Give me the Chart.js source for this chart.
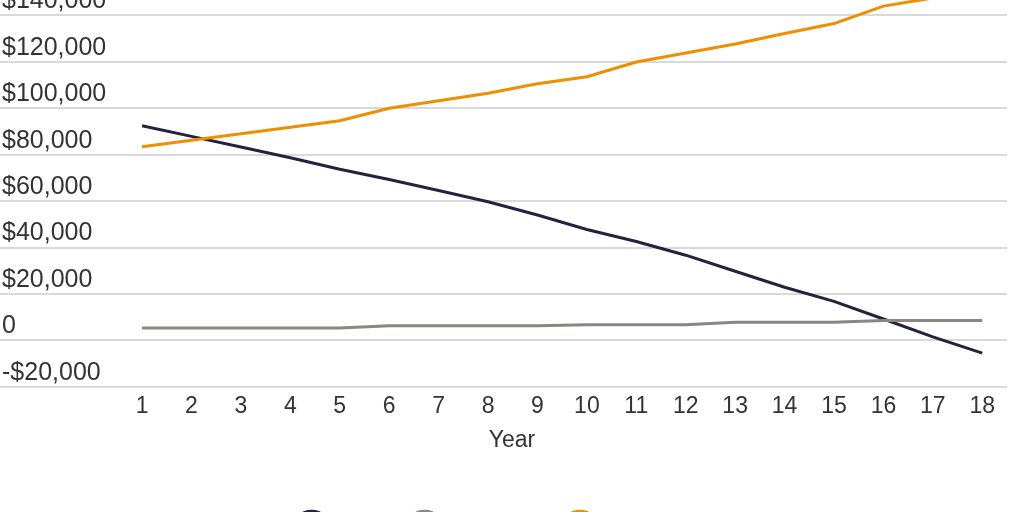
<!DOCTYPE html>
<html>
<head>
<meta charset="utf-8">
<script src="https://cdn.jsdelivr.net/npm/chart.js@4"></script>
<style>
  html, body { margin: 0; padding: 0; background: #fff; overflow: hidden; }
  #wrap { position: relative; width: 1024px; height: 512px; overflow: hidden; }
  #c { position: absolute; left: 0; top: -60px; }
</style>
</head>
<body>
<div id="wrap"><canvas id="c" width="1024" height="609"></canvas></div>
<script>
const years = [1,2,3,4,5,6,7,8,9,10,11,12,13,14,15,16,17,18];
const debt = [92500, 87900, 83300, 78700, 73700, 69300, 64600, 59700, 54000, 47800, 42600, 36700, 29800, 22900, 16800, 9200, 1500, -5500];
const payment = [5300, 5300, 5300, 5300, 5300, 6300, 6300, 6300, 6300, 6700, 6700, 6700, 7800, 7800, 7800, 8600, 8600, 8600];
const equity = [83400, 86200, 89000, 91800, 94600, 100000, 103200, 106500, 110600, 113600, 119900, 123800, 127700, 132200, 136500, 144000, 147500, 152000];
const seriesNames = ['Debt', 'Payment', 'Equity'];
const yTicks = [-20000, 0, 20000, 40000, 60000, 80000, 100000, 120000, 140000, 160000];

const FONT = "'Liberation Sans', Arial, sans-serif";
const toPts = arr => arr.map((v, i) => ({ x: years[i], y: v }));
const fmt = v => v === 0 ? '0' : (v < 0 ? '-$' : '$') + Math.abs(v).toLocaleString('en-US');

const legendShift = {
  id: 'legendShift',
  afterLayout(chart) {
    if (chart.legend) { chart.legend.left -= 20; chart.legend.right -= 20; }
  }
};

new Chart(document.getElementById('c'), {
  type: 'line',
  data: {
    datasets: [
      { label: seriesNames[0], data: toPts(debt), borderColor: '#25223f', backgroundColor: '#25223f', borderWidth: 3, pointRadius: 0, tension: 0, order: 3 },
      { label: seriesNames[1], data: toPts(payment), borderColor: '#8c877e', backgroundColor: '#8c877e', borderWidth: 3, pointRadius: 0, tension: 0, order: 2 },
      { label: seriesNames[2], data: toPts(equity), borderColor: '#ee8e00', backgroundColor: '#ee8e00', borderWidth: 3, pointRadius: 0, tension: 0, order: 1 }
    ]
  },
  plugins: [legendShift],
  options: {
    responsive: false,
    animation: false,
    layout: { padding: { top: 29, right: 17, left: 0, bottom: 0 } },
    plugins: {
      legend: {
        position: 'bottom',
        title: { display: true, text: '', font: { size: 10 }, padding: { top: 33, bottom: 0 } },
        labels: {
          usePointStyle: true, pointStyle: 'circle', boxHeight: 23, pointStyleWidth: 36,
          color: '#333', font: { family: FONT, size: 23 }, padding: 17,
          sort: (a, b) => a.datasetIndex - b.datasetIndex
        }
      },
      tooltip: { enabled: false }
    },
    scales: {
      x: {
        type: 'linear',
        min: -1.53, max: 18.5,
        afterBuildTicks: s => { s.ticks = years.map(v => ({ value: v })); },
        grid: { display: false },
        border: { display: false },
        ticks: { color: '#333', font: { family: FONT, size: 23 }, padding: -2, maxRotation: 0, autoSkip: false, callback: v => String(v) },
        title: { display: true, text: 'Year', color: '#333', font: { family: FONT, size: 23 }, padding: { top: 8, bottom: 0 } }
      },
      y: {
        min: -20000, max: 160000,
        afterBuildTicks: s => { s.ticks = yTicks.map(v => ({ value: v })); },
        grid: { color: '#d9d9d9', lineWidth: 2, drawTicks: true, tickLength: 47 },
        border: { display: false },
        ticks: { mirror: true, padding: -15, labelOffset: -14, color: '#333', font: { family: FONT, size: 25 }, callback: v => fmt(v) }
      }
    }
  }
});
</script>
</body>
</html>
